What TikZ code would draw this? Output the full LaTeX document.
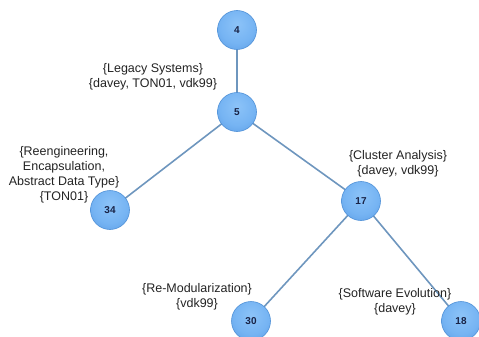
\documentclass[tikz,border=0pt]{standalone}
\usepackage{fontspec}
\setmainfont{Liberation Sans}
\definecolor{edgeblue}{RGB}{110,150,190}
\definecolor{ballrim}{RGB}{80,145,215}
\definecolor{balllight}{RGB}{140,195,248}
\definecolor{ballmid}{RGB}{118,180,243}
\definecolor{balldark}{RGB}{80,148,224}
\definecolor{numcol}{RGB}{25,35,70}
\definecolor{labelcol}{RGB}{35,35,35}
% the shading square is 100bp wide and is scaled onto the circle (radius = 50bp)
\pgfdeclareradialshading{blueball}{\pgfpoint{0bp}{8bp}}{%
  color(0bp)=(balllight); color(22bp)=(ballmid); color(45bp)=(balldark); color(70bp)=(balldark)}
\tikzset{
  ball/.style={circle, minimum size=39pt, inner sep=0pt, draw=ballrim, line width=0.6pt,
    shading=blueball, text=numcol, font=\bfseries\fontsize{10}{12}\selectfont},
  link/.style={draw=edgeblue, line width=1.6pt},
  tag/.style={align=center, text=labelcol, font=\fontsize{12.5}{15}\selectfont, inner sep=0pt}
}
\begin{document}
\begin{tikzpicture}[x=1pt, y=-1pt]
  \useasboundingbox (0,0) rectangle (479,337);
  % tree nodes
  \coordinate (p4) at (237,30);
  \coordinate (p5) at (237,112);
  \coordinate (p34) at (110,210);
  \coordinate (p17) at (361,201);
  \coordinate (p30) at (251,321);
  \coordinate (p18) at (461,321);
  % connectors (drawn first, circles on top)
  \path[link] (p4) -- (p5);
  \path[link] (p5) -- (p34);
  \path[link] (p5) -- (p17);
  \path[link] (p17) -- (p30);
  \path[link] (p17) -- (p18);
  \node[ball] (n4) at (p4) {4};
  \node[ball] (n5) at (p5) {5};
  \node[ball] (n34) at (p34) {34};
  \node[ball] (n17) at (p17) {17};
  \node[ball] (n30) at (p30) {30};
  \node[ball] (n18) at (p18) {18};
  % labels
  \node[tag] (l5) at (153,77) {\{Legacy Systems\}\\\{davey, TON01, vdk99\}};
  \node[tag] (l34) at (64,175) {\{Reengineering,\\Encapsulation,\\Abstract Data Type\}\\\{TON01\}};
  \node[tag] (l17) at (398,164) {\{Cluster Analysis\}\\\{davey, vdk99\}};
  \node[tag] (l30) at (197,297) {\{Re-Modularization\}\\\{vdk99\}};
  \node[tag] (l18) at (395,302) {\{Software Evolution\}\\\{davey\}};
\end{tikzpicture}
\end{document}
